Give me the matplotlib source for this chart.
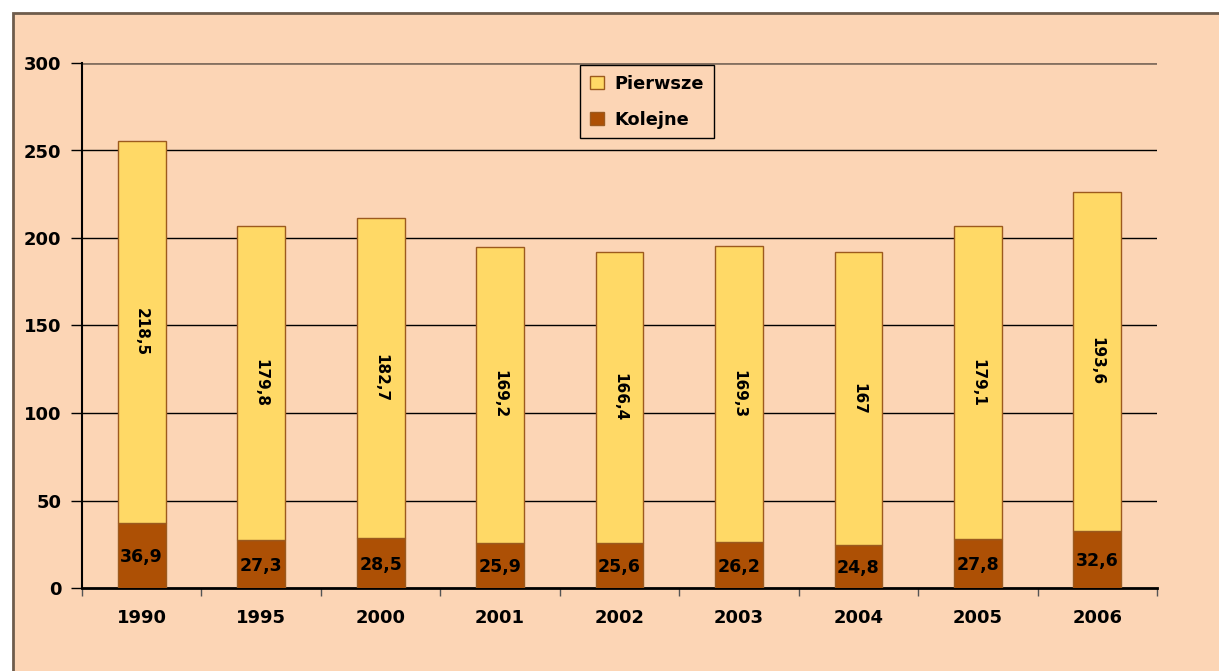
import numpy as np
import matplotlib.pyplot as plt
from matplotlib.patches import Rectangle

years = ["1990", "1995", "2000", "2001", "2002", "2003", "2004", "2005", "2006"]
kolejne = [36.9, 27.3, 28.5, 25.9, 25.6, 26.2, 24.8, 27.8, 32.6]
pierwsze = [218.5, 179.8, 182.7, 169.2, 166.4, 169.3, 167, 179.1, 193.6]

peach = "#FCD5B5"
yellow = "#FFD966"
brown = "#AD5005"
edge = "#9C5A1E"

def fmt(v):
    s = ("%.1f" % v).rstrip("0").rstrip(".")
    return s.replace(".", ",")

fig = plt.figure(figsize=(12.19, 6.71), dpi=100, facecolor="white")
bg = Rectangle((13 / 1219, -0.01), 1.0, 1 - 13 / 671 + 0.01,
               transform=fig.transFigure, facecolor=peach,
               edgecolor="#6E5C4C", lw=2, zorder=-10)
fig.add_artist(bg)

ax = fig.add_axes([82 / 1219, 1 - 588 / 671, (1157 - 82) / 1219, (588 - 63) / 671])
ax.set_facecolor("none")

x = np.arange(len(years))
w = 0.40
b1 = ax.bar(x, kolejne, w, color=brown, edgecolor=edge, lw=1, label="Kolejne", zorder=3)
b2 = ax.bar(x, pierwsze, w, bottom=kolejne, color=yellow, edgecolor=edge, lw=1,
            label="Pierwsze", zorder=3)

for i in range(len(years)):
    ax.text(x[i], kolejne[i] / 2 - 1, fmt(kolejne[i]), ha="center", va="center",
            fontsize=12.5, fontweight="bold", zorder=4)
    ax.text(x[i], kolejne[i] + pierwsze[i] / 2, fmt(pierwsze[i]), ha="center",
            va="center", rotation=270, fontsize=11, fontweight="bold", zorder=4)

ax.set_xlim(-0.5, len(years) - 0.5)
ax.set_ylim(0, 300)
ax.set_yticks(range(0, 301, 50))
for yv in range(50, 300, 50):
    ax.axhline(yv, color="black", lw=1, zorder=1)
ax.axhline(300, color="#857060", lw=2, zorder=1)

ax.set_xticks(np.arange(-0.5, len(years), 1.0))
ax.set_xticklabels([])
ax.set_xticks(x, minor=True)
ax.set_xticklabels(years, minor=True)
ax.tick_params(axis="x", which="major", direction="out", length=6, width=1, color="#555555")
ax.tick_params(axis="x", which="minor", length=0, pad=15)
ax.tick_params(axis="y", direction="out", length=8, width=1, pad=7)
for lab in ax.get_xticklabels(minor=True) + ax.get_yticklabels():
    lab.set_fontsize(13)
    lab.set_fontweight("bold")

for s in ["top", "right"]:
    ax.spines[s].set_visible(False)
ax.spines["left"].set_linewidth(1.5)
ax.spines["bottom"].set_linewidth(2)

leg = ax.legend(handles=[b2, b1], loc="upper center", bbox_to_anchor=(0.5256, 0.9962),
                borderaxespad=0, frameon=True, fancybox=False, edgecolor="black",
                facecolor=peach, prop={"weight": "bold", "size": 12.8},
                handlelength=0.8, handleheight=0.8, labelspacing=1.0,
                borderpad=0.55, handletextpad=0.6)
leg.get_frame().set_linewidth(1)
leg.get_frame().set_alpha(None)

fig.savefig("out.png", dpi=100, facecolor="white")
